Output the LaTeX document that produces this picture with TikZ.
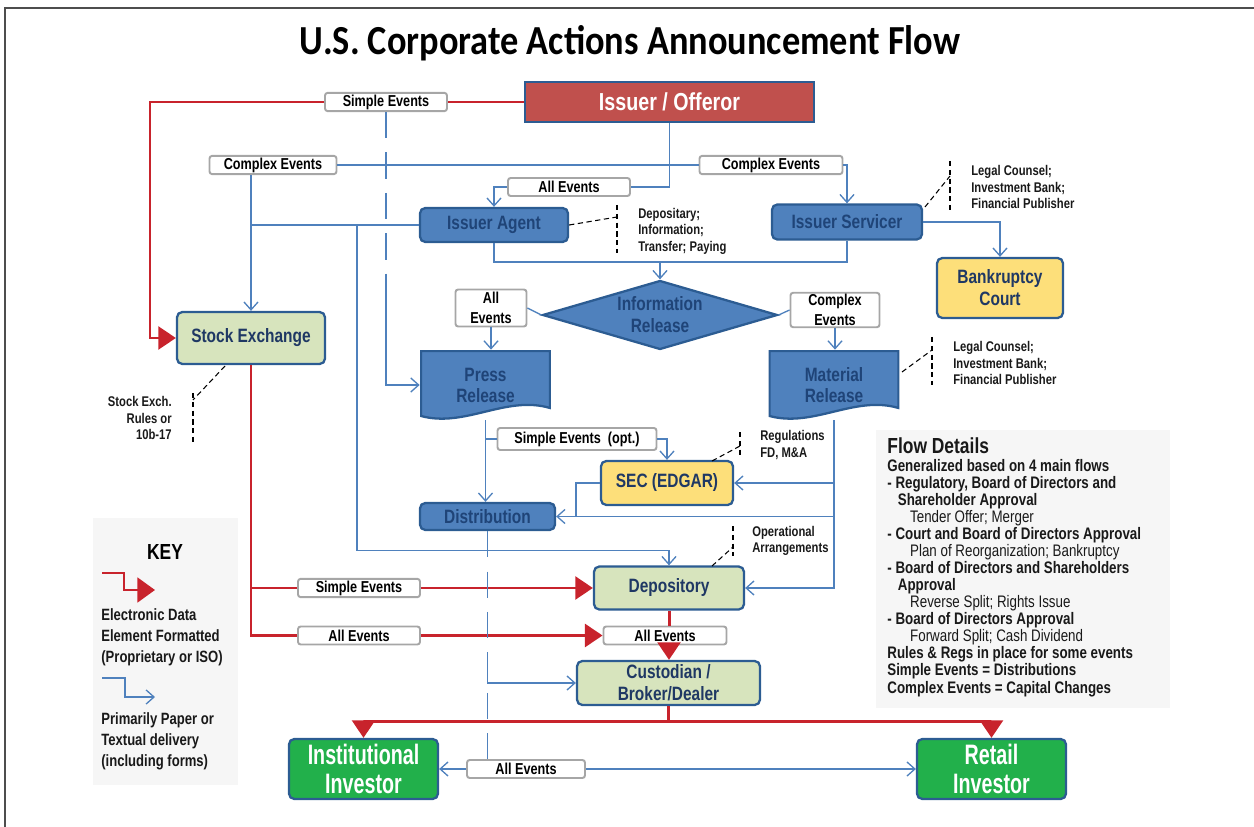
\documentclass[tikz,border=0pt]{standalone}
\usepackage{fontspec}
\setmainfont{Liberation Sans}
\newfontfamily\boxfont{Liberation Sans}[FakeStretch=0.8]
\newfontfamily\investfont{Liberation Sans}[FakeStretch=0.7]
\newfontfamily\titlefont{Carlito}[FakeStretch=0.88]
\usetikzlibrary{arrows.meta,shapes.geometric,calc}

\definecolor{lineblue}{HTML}{4F81BD}
\definecolor{linered}{HTML}{C8232C}
\definecolor{issuerred}{HTML}{C0504D}
\definecolor{boxline}{HTML}{2C5C92}
\definecolor{agentblue}{HTML}{4F81BD}
\definecolor{agenttext}{HTML}{1F4478}
\definecolor{palegreen}{HTML}{D7E4BD}
\definecolor{courtyellow}{HTML}{FDDF7A}
\definecolor{investgreen}{HTML}{22B04B}
\definecolor{navy}{HTML}{1F3864}
\definecolor{labelgray}{HTML}{A6A6A6}
\definecolor{panelgray}{HTML}{F6F6F6}
\definecolor{framegray}{HTML}{4D4D4D}

\begin{document}
\begin{tikzpicture}[x=0.02cm,y=-0.02cm,
  box/.style={rectangle,rounded corners=3pt,draw=boxline,line width=1.3pt,align=center,inner sep=1pt,
    font=\boxfont\bfseries\fontsize{11}{12.5}\selectfont},
  issuerbox/.style={box,rounded corners=0pt,fill=issuerred,text=white,minimum width=5.78cm,minimum height=0.8cm,
    font=\boxfont\bfseries\fontsize{14}{16}\selectfont},
  bluebox/.style={box,fill=agentblue,text=agenttext},
  greenbox/.style={box,fill=palegreen,text=navy},
  yellowbox/.style={box,fill=courtyellow,text=navy},
  investor/.style={box,fill=investgreen,text=white,minimum width=2.98cm,minimum height=1.2cm,
    font=\investfont\bfseries\fontsize{16}{16.5}\selectfont},
  inforel/.style={diamond,aspect=3.4,draw=boxline,fill=agentblue,line width=1.3pt,text=agenttext,inner sep=0pt,
    minimum width=4.7cm,minimum height=1.38cm,align=center,font=\boxfont\bfseries\fontsize{11}{12.5}\selectfont},
  doc/.style={rectangle,draw=none,minimum width=2.62cm,minimum height=1.4cm,inner sep=0pt,align=center,
    text=agenttext,font=\boxfont\bfseries\fontsize{11}{12}\selectfont,
    path picture={\filldraw[fill=agentblue,draw=boxline,line width=1.3pt]
      ($(path picture bounding box.north west)+(1,1)$) -- ($(path picture bounding box.north east)+(-1,1)$)
      -- ($(path picture bounding box.south east)+(-1,-12)$)
      .. controls ($(path picture bounding box.south east)+(-45,-25)$) and ($(path picture bounding box.south west)+(45,8)$)
      .. ($(path picture bounding box.south west)+(1,-4)$) -- cycle;}},
  evt/.style={rectangle,rounded corners=1.5pt,draw=labelgray,line width=1.1pt,fill=white,inner sep=1pt,
    minimum height=0.36cm,align=center,font=\boxfont\bfseries\fontsize{9}{11}\selectfont},
  flow/.style={draw=lineblue,line width=0.75pt},
  flowarr/.style={flow,-{Straight Barb[length=4.5pt,width=8pt]}},
  elec/.style={draw=linered,line width=1.7pt},
  elecarr/.style={elec,-{Triangle[length=10pt,width=13pt]}},
  dashdot/.style={flow,dash pattern=on 15pt off 8pt},
  note/.style={draw=black,line width=0.6pt,dash pattern=on 3pt off 2pt},
  notetext/.style={inner sep=0pt,align=left,text=black!90,font=\boxfont\bfseries\fontsize{8}{9.4}\selectfont},
  keytext/.style={inner sep=0pt,align=left,text=black!90,font=\boxfont\bfseries\fontsize{9.3}{11.9}\selectfont},
  flowtext/.style={inner sep=0pt,align=left,text=black!90,font=\boxfont\bfseries\fontsize{9.5}{9.7}\selectfont}
]
  \useasboundingbox (0,0) rectangle (1254,827);
  \draw[framegray,line width=0.9pt] (1254,8) -- (5,8) -- (5,827);
  \node[anchor=base,font=\titlefont\bfseries\fontsize{23.5}{28}\selectfont] (title) at (630,55)
    {U.S. Corporate Actions Announcement Flow};

  \fill[panelgray] (93,518) rectangle (238,785);
  \fill[panelgray] (876,430) rectangle (1170,708);

  \node[issuerbox] (issuer) at (669.5,102) {Issuer / Offeror};
  \node[bluebox,minimum width=2.96cm,minimum height=0.68cm] (agent) at (494,225) {Issuer Agent};
  \node[bluebox,minimum width=3cm,minimum height=0.7cm] (servicer) at (847,222) {Issuer Servicer};
  \node[yellowbox,minimum width=2.52cm,minimum height=1.2cm] (court) at (1000,288) {Bankruptcy\\Court};
  \node[greenbox,minimum width=2.96cm,minimum height=1.04cm] (stock) at (251,338) {Stock Exchange};
  \node[inforel] (info) at (660,315) {Information\\Release};
  \node[doc] (press) at (485.5,385) {Press\\Release};
  \node[doc] (material) at (834,385) {Material\\Release};
  \node[yellowbox,minimum width=2.64cm,minimum height=0.88cm] (sec) at (667,483) {SEC (EDGAR)};
  \node[bluebox,minimum width=2.7cm,minimum height=0.54cm] (dist) at (487.5,516.5) {Distribution};
  \node[greenbox,minimum width=3cm,minimum height=0.86cm] (dep) at (669,588) {Depository};
  \node[greenbox,minimum width=3.66cm,minimum height=0.88cm] (cust) at (668.5,683) {Custodian /\\Broker/Dealer};
  \node[investor] (inst) at (363.5,769) {Institutional\\Investor};
  \node[investor] (retail) at (991.5,769) {Retail\\Investor};

  \node[evt,minimum width=2.44cm] (simpletop) at (386,102) {Simple Events};
  \node[evt,minimum width=2.54cm] (complexleft) at (273,165) {Complex Events};
  \node[evt,minimum width=2.86cm] (complexright) at (771,165) {Complex Events};
  \node[evt,minimum width=2.44cm] (alltop) at (569,187) {All Events};
  \node[evt,minimum width=1.42cm,minimum height=0.74cm] (allinfo) at (491,308) {All\\Events};
  \node[evt,minimum width=1.78cm,minimum height=0.68cm] (complexinfo) at (835,310) {Complex\\Events};
  \node[evt,minimum width=3.18cm,minimum height=0.44cm] (simpleopt) at (577,439) {Simple Events\ \ (opt.)};
  \node[evt,minimum width=2.44cm] (simpledep) at (359,588) {Simple Events};
  \node[evt,minimum width=2.44cm] (allcust) at (359,635.5) {All Events};
  \node[evt,minimum width=2.46cm] (allmid) at (665,635.5) {All Events};
  \node[evt,minimum width=2.36cm] (allinv) at (526,769) {All Events};

  \coordinate (redcorner) at (150,102);
  \draw[elec] (issuer.west) -- (simpletop.east);
  \draw[elecarr] (simpletop.west) -- (redcorner) |- (stock.west);
  \draw[elec] (stock.south) |- (allcust.west);
  \draw[elec] (stock.south |- simpledep.west) -- (simpledep.west);
  \draw[elecarr] (simpledep.east) -- (dep.west);
  \draw[elecarr] (allcust.east) -- (allmid.west);
  \draw[elec] (dep.south) -- (dep.south |- allmid.north);
  \draw[elecarr] (dep.south |- allmid.south) -- (dep.south |- cust.north);
  \draw[elecarr] (cust.south) -- ++(0,15) -| (inst.north);
  \draw[elecarr] (cust.south) ++(0,15) -| (retail.north);

  \draw[flow] (issuer.south) |- (alltop.east);
  \draw[flowarr] (alltop.west) -| (agent.north);
  \draw[flow] (complexleft.east) -- (complexright.west);
  \draw[flowarr] (complexright.east) -| (servicer.north);
  \draw[flowarr] (complexleft.south -| stock.north) -- (stock.north);
  \draw[flow] (agent.west) -- (agent.west -| stock.north);
  \coordinate (agentbus) at (357,225);
  \draw[flowarr] (agentbus) |- ($(dep.north)+(0,-15)$) -- (dep.north);
  \coordinate (simplebreak) at (386,276);
  \draw[dashdot] (simpletop.south) -- (simplebreak);
  \draw[flowarr] (simplebreak) |- (press.west);
  \coordinate (infojoin) at (660,262);
  \draw[flow] (agent.south) |- (infojoin);
  \draw[flow] (servicer.south) |- (infojoin);
  \draw[flowarr] (infojoin) -- (info.north);
  \draw[flowarr] (servicer.east) -| (court.north);
  \draw[flow] (info.west) -- (allinfo.east);
  \draw[flowarr] (allinfo.south) -- (allinfo.south |- press.north);
  \draw[flow] (info.east) -- (complexinfo.west);
  \draw[flowarr] (complexinfo.south) -- (complexinfo.south |- material.north);
  \draw[flowarr] (press.south) -- (press.south |- dist.north);
  \draw[flow] (press.south |- simpleopt.west) -- (simpleopt.west);
  \draw[flowarr] (simpleopt.east) -| (sec.north);
  \draw[flowarr] (material.south) |- (dep.east);
  \draw[flowarr] (material.south |- sec.east) -- (sec.east);
  \draw[flowarr] (material.south |- dist.east) -- (dist.east);
  \draw[flow] (sec.west) -| ($(dist.east)+(20,0)$);
  \draw[flow] (dist.south) -- ++(0,12);
  \draw[dashdot] (dist.south) -- (dist.south |- allinv.north);
  \coordinate (custfeed) at (487.5,652);
  \draw[flowarr] (custfeed) |- (cust.west);
  \draw[flowarr] (allinv.west) -- (inst.east);
  \draw[flowarr] (allinv.east) -- (retail.west);

  \draw[note] (agent.east) -- (617,217);
  \draw[note] (617,205) -- (617,253);
  \node[notetext,anchor=west] (agentnote) at (638,231) {Depositary;\\Information;\\Transfer; Paying};
  \draw[note] (925,207) -- (950,176);
  \draw[note] (950,161) -- (950,211);
  \node[notetext,anchor=west] (servicernote) at (971,187) {Legal Counsel;\\Investment Bank;\\Financial Publisher};
  \draw[note] (902,372) -- (932,350);
  \draw[note] (932,337) -- (932,385);
  \node[notetext,anchor=west] (materialnote) at (953,363) {Legal Counsel;\\Investment Bank;\\Financial Publisher};
  \draw[note] (712,461) -- (740,446);
  \draw[note] (740,432) -- (740,458);
  \node[notetext,anchor=west] (secnote) at (760,445) {Regulations\\FD, M\&A};
  \draw[note] (712,566) -- (733,547);
  \draw[note] (733,526) -- (733,556);
  \node[notetext,anchor=west] (depnote) at (752,541) {Operational\\Arrangements};
  \draw[note] (225,366) -- (193,400);
  \draw[note] (193,393) -- (193,442);
  \node[notetext,anchor=east,align=right] (stocknote) at (172,418) {Stock Exch.\\Rules or\\10b-17};

  \node[font=\boxfont\bfseries\fontsize{12.4}{14}\selectfont] (keyhead) at (165,552) {KEY};
  \draw[elec,-{Triangle[length=10pt,width=14pt]}] (102,573) -- (124,573) -- (124,590) -- (155,590);
  \node[keytext,anchor=west] (keyelec) at (101,637) {Electronic Data\\Element Formatted\\(Proprietary or ISO)};
  \draw[flowarr] (102,678) -- (125,678) -- (125,697) -- (155,697);
  \node[keytext,anchor=west] (keypaper) at (101,741) {Primarily Paper or\\Textual delivery\\(including forms)};

  \node[anchor=west,inner sep=0pt,text=black!90,font=\boxfont\bfseries\fontsize{12.4}{14}\selectfont] (flowhead) at (887,446) {Flow Details};
  \node[flowtext,anchor=north west] (flowbody) at (887,459) {Generalized based on 4 main flows\\
    - Regulatory, Board of Directors and\\
    \hspace*{6pt}Shareholder Approval\\
    \hspace*{13pt}{\mdseries Tender Offer; Merger}\\
    - Court and Board of Directors Approval\\
    \hspace*{13pt}{\mdseries Plan of Reorganization; Bankruptcy}\\
    - Board of Directors and Shareholders\\
    \hspace*{6pt}Approval\\
    \hspace*{13pt}{\mdseries Reverse Split; Rights Issue}\\
    - Board of Directors Approval\\
    \hspace*{13pt}{\mdseries Forward Split; Cash Dividend}\\
    Rules \& Regs in place for some events\\
    Simple Events = Distributions\\
    Complex Events = Capital Changes};
\end{tikzpicture}
\end{document}
